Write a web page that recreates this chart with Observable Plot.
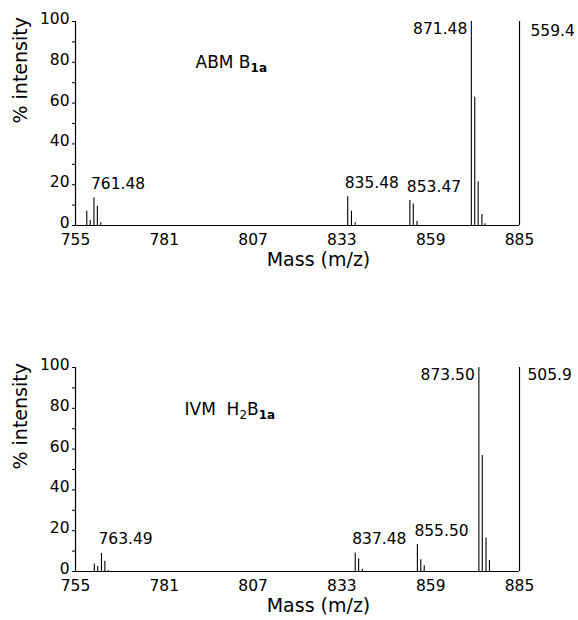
<!DOCTYPE html>
<html><head><meta charset="utf-8">
<script src="https://cdn.jsdelivr.net/npm/d3@7"></script>
<script src="https://cdn.jsdelivr.net/npm/@observablehq/plot@0.6"></script>
<style>
body{margin:0;background:#fff;width:578px;height:620px;overflow:hidden;position:relative;}
.panel{position:absolute;left:0;}
</style>
</head><body>
<div id="top" class="panel" style="top:0"></div>
<div id="bot" class="panel" style="top:346px"></div>
<script>
// ---- data ----
const xTicks = [755, 781, 807, 833, 859, 885];
const yTicks = [0, 10, 20, 30, 40, 50, 60, 70, 80, 90, 100];
const yLabelTicks = [0, 20, 40, 60, 80, 100];
const xTitle = "Mass (m/z)";
const yTitle = "% intensity";

// Top panel: ABM B1a
const topMass = [758.3, 759.3, 760.4, 761.4, 762.4, 834.7, 835.8, 836.9, 852.9, 853.9, 855.0, 870.9, 871.9, 872.9, 874.0, 874.9];
const topInt  = [7.0, 2.4, 13.5, 9.4, 1.3, 14.1, 7.0, 1.3, 12.2, 10.6, 2.0, 100, 62.9, 21.5, 5.4, 0.8];
const topLabelText = ["761.48", "835.48", "853.47", "871.48"];
const topLabelMass = [760.4, 834.7, 852.9, 870.9];
// pieces: [text, kind] where kind 0 = normal, 1 = subscript, 2 = bold subscript
const topTitle = [["ABM B", 0], ["1a", 2]];
const topFullScale = "559.4";

// Bottom panel: IVM H2B1a
const botMass = [760.5, 761.5, 762.6, 763.6, 764.6, 836.9, 837.9, 839.0, 855.1, 856.1, 857.1, 873.1, 874.1, 875.2, 876.2];
const botInt  = [3.7, 2.4, 8.9, 5.0, 0.5, 9.1, 6.2, 1.1, 13.2, 5.7, 2.8, 100, 56.9, 16.4, 5.4];
const botLabelText = ["763.49", "837.48", "855.50", "873.50"];
const botLabelMass = [762.6, 836.9, 855.1, 873.1];
const botTitle = [["IVM\u00A0\u00A0H", 0], ["2", 1], ["B", 0], ["1a", 2]];
const botFullScale = "505.9";

const FONT = '"DejaVu Sans", Verdana, sans-serif';

function makePanel(mass, inten, labelText, labelMass, titlePieces, fullScale, o) {
  const peaks = mass.map((m, i) => ({m, v: inten[i]}));
  const labs = labelText.map((t, i) => {
    const p = peaks.find(d => d.m === labelMass[i]);
    return {t, m: p.m, v: p.v};
  });
  const minor = labs.filter(d => d.v < 100);
  const major = labs.filter(d => d.v >= 100);
  const plain = titlePieces.map(p => p[0]).join("");
  const svg = Plot.plot({
    width: 578, height: 290,
    marginTop: 21, marginBottom: 65, marginLeft: 75, marginRight: 59,
    style: {fontFamily: FONT, fontSize: "15.5px", color: "#000", background: "#fff", overflow: "visible"},
    x: {domain: [755, 885]},
    y: {domain: [0, 100]},
    marks: [
      Plot.axisX({ticks: xTicks, tickSize: 0, tickPadding: 8.5, label: null, tickFormat: d => String(d), fontSize: 15.5}),
      Plot.axisY({ticks: yTicks, tickSize: 3, label: null, tickFormat: () => ""}),
      Plot.axisY({ticks: yLabelTicks, tickSize: 0, tickPadding: 6, label: null, dy: -2.5, tickFormat: d => String(d), fontSize: 15.5}),
      Plot.ruleX([755, 885], {stroke: "#000", strokeWidth: 1.2}),
      Plot.ruleY([0], {stroke: "#000", strokeWidth: 1.2}),
      Plot.ruleX(peaks, {x: "m", y1: 0, y2: "v", stroke: "#000", strokeWidth: 1.1}),
      Plot.text(minor, {x: "m", y: "v", text: "t", textAnchor: "start", dx: -3, dy: -14, fontSize: 15.5}),
      Plot.text(major, {x: "m", y: "v", text: "t", textAnchor: "end", dx: -4, dy: 8, fontSize: 15.5}),
      Plot.text([fullScale], {text: d => d, frameAnchor: "top-right", textAnchor: "start", dx: o.noteDx, dy: o.noteDy, fontSize: 15.5}),
      Plot.text([plain], {text: d => d, frameAnchor: "top-left", textAnchor: "start", dx: o.titleDx, dy: o.titleDy, fontSize: 17}),
      Plot.text([xTitle], {text: d => d, frameAnchor: "bottom", dx: 21, dy: 40, fontSize: 19}),
      Plot.text([yTitle], {text: d => d, frameAnchor: "left", dx: -54.5, rotate: -90, fontSize: 19})
    ]
  });
  // rebuild the compound title with real subscripts
  d3.select(svg).selectAll("text").each(function() {
    if (this.textContent === plain) {
      const el = d3.select(this);
      el.text("");
      let shifted = false;
      titlePieces.forEach(([s, kind]) => {
        const ts = el.append("tspan").text(s);
        if (kind > 0) {
          ts.attr("font-size", 12);
          if (kind === 2) ts.attr("font-weight", "bold");
          if (!shifted) { ts.attr("dy", 4); shifted = true; }
        } else if (shifted) { ts.attr("dy", -4); shifted = false; }
      });
    }
  });
  return svg;
}

document.getElementById("top").append(
  makePanel(topMass, topInt, topLabelText, topLabelMass, topTitle, topFullScale,
    {noteDx: 11, noteDy: 3, titleDx: 120, titleDy: 34}));
document.getElementById("bot").append(
  makePanel(botMass, botInt, botLabelText, botLabelMass, botTitle, botFullScale,
    {noteDx: 8, noteDy: 1, titleDx: 109, titleDy: 35}));
</script>
</body></html>
